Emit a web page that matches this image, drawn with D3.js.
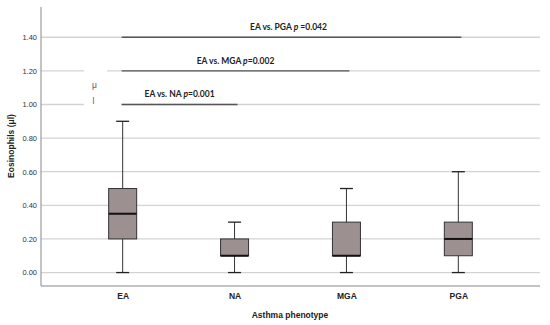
<!DOCTYPE html>
<meta charset="utf-8">
<style>
body { margin: 0; background: #fff; }
text { font-family: Arial, "Liberation Sans", sans-serif; }
.ann { font-family: Lato, "Open Sans", sans-serif; font-weight: bold; font-size: 8.5px; fill: #222; }
</style>
<body>
<script src="https://d3js.org/d3.v7.min.js"></script>
<script>

// box plot summary per phenotype
var groups = ["EA", "NA", "MGA", "PGA"];
var mins    = [0.00, 0.00, 0.00, 0.00];
var q1s     = [0.20, 0.10, 0.10, 0.10];
var medians = [0.35, 0.10, 0.10, 0.20];
var q3s     = [0.50, 0.20, 0.30, 0.30];
var maxs    = [0.90, 0.30, 0.50, 0.60];

var yTicks = [0, 0.2, 0.4, 0.6, 0.8, 1.0, 1.2, 1.4];

// comparison brackets
var compTo = ["NA", "MGA", "PGA"];
var compY = [1.0, 1.2, 1.4];
var compLabel = ["EA vs. NA ", "EA vs. MGA ", "EA vs. PGA "];
var compP = ["=0.001", "=0.002", " =0.042"];

var w = 550, h = 325;

var svg = d3.select("body").append("svg")
    .attr("width", w)
    .attr("height", h);

var x = d3.scalePoint()
    .domain(groups)
    .range([41, 540])
    .padding(0.73);

var y = d3.scaleLinear()
    .domain([-0.08, 1.58])
    .range([286, 7]);

// gridlines
svg.selectAll(".grid")
    .data(yTicks)
    .enter().append("line")
    .attr("x1", 41).attr("x2", 540)
    .attr("y1", function(d) { return y(d); })
    .attr("y2", function(d) { return y(d); })
    .attr("stroke", "#d3d3d3")
    .attr("stroke-width", 1.3);

// white boxes behind the stray symbols
svg.append("rect").attr("x", 84).attr("y", y(1.2) - 3).attr("width", 23).attr("height", 6).attr("fill", "#fff");
svg.append("rect").attr("x", 84).attr("y", y(1.0) - 3).attr("width", 37).attr("height", 6).attr("fill", "#fff");
svg.append("text").attr("x", 92).attr("y", 88).attr("font-size", 8.5).attr("fill", "#555").text("μ");
svg.append("text").attr("x", 92.5).attr("y", 104).attr("font-size", 8.5).attr("fill", "#555").text("l");

// axes
svg.append("line").attr("x1", 41).attr("x2", 41).attr("y1", 7).attr("y2", 286)
    .attr("stroke", "#888").attr("stroke-width", 1);
svg.append("line").attr("x1", 41).attr("x2", 540).attr("y1", 286).attr("y2", 286)
    .attr("stroke", "#888").attr("stroke-width", 1);

var yAxis = svg.append("g")
    .attr("transform", "translate(41,0)")
    .call(d3.axisLeft(y).tickValues(yTicks).tickSize(0).tickPadding(4).tickFormat(d3.format(".2f")));
yAxis.select(".domain").remove();
yAxis.selectAll("text").attr("font-size", 7.5).attr("fill", "#333").attr("font-family", "Arial, 'Liberation Sans', sans-serif");

var xAxis = svg.append("g")
    .attr("transform", "translate(0,286)")
    .call(d3.axisBottom(x).tickSize(0).tickPadding(7));
xAxis.select(".domain").remove();
xAxis.selectAll("text").attr("font-size", 8.5).attr("font-weight", "bold").attr("fill", "#222")
    .attr("font-family", "Arial, 'Liberation Sans', sans-serif");

svg.append("text")
    .attr("x", 290).attr("y", 318)
    .attr("text-anchor", "middle")
    .attr("font-size", 8.5).attr("font-weight", "bold").attr("fill", "#222")
    .text("Asthma phenotype");

svg.append("text")
    .attr("transform", "translate(14,146) rotate(-90)")
    .attr("text-anchor", "middle")
    .attr("font-size", 8.5).attr("font-weight", "bold").attr("fill", "#222")
    .text("Eosinophils (μl)");

// boxes
var boxW = 28, capW = 13;
var b = svg.selectAll(".box")
    .data(groups)
    .enter().append("g");

b.append("line")
    .attr("x1", function(d) { return x(d); })
    .attr("x2", function(d) { return x(d); })
    .attr("y1", function(d, i) { return y(mins[i]); })
    .attr("y2", function(d, i) { return y(maxs[i]); })
    .attr("stroke", "#333").attr("stroke-width", 1);

b.selectAll(".cap")
    .data(function(d, i) { return [[d, mins[i]], [d, maxs[i]]]; })
    .enter().append("line")
    .attr("x1", function(d) { return x(d[0]) - capW / 2; })
    .attr("x2", function(d) { return x(d[0]) + capW / 2; })
    .attr("y1", function(d) { return y(d[1]); })
    .attr("y2", function(d) { return y(d[1]); })
    .attr("stroke", "#222").attr("stroke-width", 1.3);

b.append("rect")
    .attr("x", function(d) { return x(d) - boxW / 2; })
    .attr("y", function(d, i) { return y(q3s[i]); })
    .attr("width", boxW)
    .attr("height", function(d, i) { return y(q1s[i]) - y(q3s[i]); })
    .attr("fill", "#9c9090")
    .attr("stroke", "#333").attr("stroke-width", 1);

b.append("line")
    .attr("x1", function(d) { return x(d) - boxW / 2; })
    .attr("x2", function(d) { return x(d) + boxW / 2; })
    .attr("y1", function(d, i) { return y(medians[i]); })
    .attr("y2", function(d, i) { return y(medians[i]); })
    .attr("stroke", "#111").attr("stroke-width", 2);

// comparison lines and labels
compTo.forEach(function(g, i) {
    var x1 = x("EA") - 1, x2 = x(g) + 3;
    svg.append("line")
        .attr("x1", x1).attr("x2", x2)
        .attr("y1", y(compY[i])).attr("y2", y(compY[i]))
        .attr("stroke", "#555").attr("stroke-width", 1.3);
    var t = svg.append("text")
        .attr("class", "ann")
        .attr("x", (x1 + x2) / 2 + (i == 2 ? -3 : 0))
        .attr("y", y(compY[i]) - 7)
        .attr("text-anchor", "middle");
    t.append("tspan").text(compLabel[i]);
    t.append("tspan").attr("font-style", "italic").text("p");
    t.append("tspan").text(compP[i]);
});

</script>
</body>
